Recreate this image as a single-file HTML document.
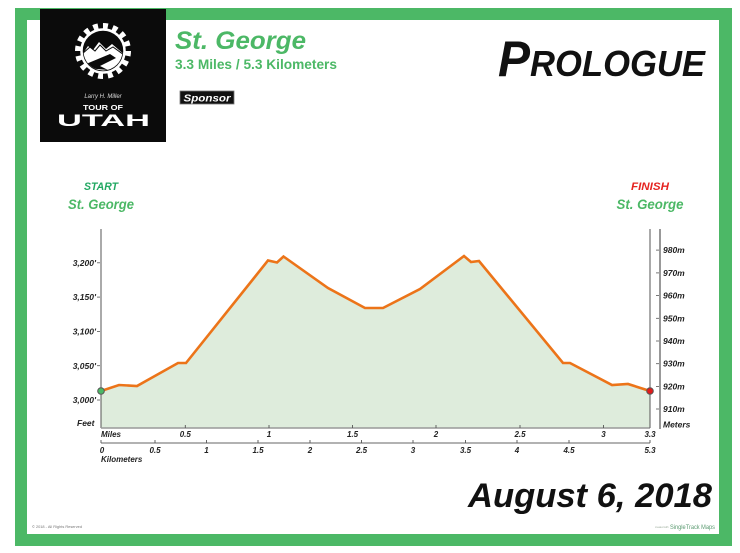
<!DOCTYPE html>
<html><head><meta charset="utf-8"><style>
html,body{margin:0;padding:0;background:#fff;}
svg{display:block;}
text{font-family:"Liberation Sans",sans-serif;font-weight:bold;font-style:italic;}
text.up{font-style:normal;}
text.nb{font-style:normal;font-weight:normal;}
</style></head><body>
<svg width="740" height="553" viewBox="0 0 740 553" xmlns="http://www.w3.org/2000/svg">
<rect x="0" y="0" width="740" height="553" fill="#fff"/>
<rect x="15" y="8" width="717" height="538" fill="#4cb866"/>
<rect x="27" y="20" width="692" height="514" fill="#fff"/>

<!-- logo -->
<rect x="40" y="9" width="126" height="133" fill="#0b0b0b"/>
<circle cx="103" cy="51" r="25" fill="none" stroke="#fff" stroke-width="6" stroke-dasharray="4.9 4.9"/>
<circle cx="103" cy="51" r="21.5" fill="#0b0b0b" stroke="#fff" stroke-width="2.5"/>
<clipPath id="gc"><circle cx="103" cy="51" r="19.5"/></clipPath>
<g clip-path="url(#gc)">
<polygon points="80,58 88,46 93,50 99,42 106,49 112,44 126,56 126,75 80,75" fill="#fff"/>
<polygon points="86,64 110,54 116,58 100,66 108,70 86,68" fill="#0b0b0b"/>
<polyline points="82,54 90,47 95,51 100,45 106,51 113,47 124,55" fill="none" stroke="#0b0b0b" stroke-width="1"/>
</g>
<text x="103" y="98" font-size="6" fill="#ddd" text-anchor="middle" style="font-weight:normal">Larry H. Miller</text>
<text class="up" x="103" y="110" font-size="7" fill="#fff" text-anchor="middle" textLength="40" lengthAdjust="spacingAndGlyphs">TOUR OF</text>
<text class="up" x="57" y="126" font-size="17" fill="#fff" textLength="93" lengthAdjust="spacingAndGlyphs">UTAH</text>

<!-- titles -->
<text x="175" y="49" font-size="25" fill="#4cb866" textLength="131" lengthAdjust="spacingAndGlyphs">St. George</text>
<text class="up" x="175" y="69" font-size="13.5" fill="#4cb866" textLength="162" lengthAdjust="spacingAndGlyphs">3.3 Miles / 5.3 Kilometers</text>
<rect x="180" y="91" width="54" height="13" fill="#111" stroke="#777" stroke-width="0.8"/>
<text x="207" y="101.5" font-size="10" fill="#fff" text-anchor="middle" textLength="47" lengthAdjust="spacingAndGlyphs">Sponsor</text>

<text x="498" y="76" fill="#111" textLength="207" lengthAdjust="spacingAndGlyphs"><tspan font-size="50">P</tspan><tspan font-size="36">ROLOGUE</tspan></text>

<!-- start / finish -->
<text x="101" y="190" font-size="11" fill="#22a862" text-anchor="middle" textLength="34" lengthAdjust="spacingAndGlyphs">START</text>
<text x="101" y="209" font-size="14" fill="#4cb866" text-anchor="middle" textLength="66" lengthAdjust="spacingAndGlyphs">St. George</text>
<text x="650" y="190" font-size="11" fill="#e52421" text-anchor="middle" textLength="38" lengthAdjust="spacingAndGlyphs">FINISH</text>
<text x="650" y="209" font-size="14" fill="#4cb866" text-anchor="middle" textLength="67" lengthAdjust="spacingAndGlyphs">St. George</text>

<!-- profile -->
<polygon points="101,391 119,385 137,386 178,363 186,363 268,260.5 277,262.5 283.5,256.5 328,288 365,308 383,308 420,289 464,256 471,262 479,261 563,363 570,363 612,385 628,384 650,391 650,428 101,428" fill="#deecdc"/>
<polyline points="101,391 119,385 137,386 178,363 186,363 268,260.5 277,262.5 283.5,256.5 328,288 365,308 383,308 420,289 464,256 471,262 479,261 563,363 570,363 612,385 628,384 650,391" fill="none" stroke="#ec7419" stroke-width="2.6" stroke-linejoin="miter"/>

<!-- axes -->
<line x1="101" y1="229" x2="101" y2="428" stroke="#555" stroke-width="1"/>
<line x1="650" y1="229" x2="650" y2="428" stroke="#555" stroke-width="1"/>
<line x1="660" y1="229" x2="660" y2="429" stroke="#333" stroke-width="1"/>
<line x1="101" y1="428" x2="650" y2="428" stroke="#999" stroke-width="1.4"/>
<line x1="101" y1="443" x2="650" y2="443" stroke="#999" stroke-width="1.4"/>

<g font-size="8.5" fill="#222" text-anchor="end">
<text x="96" y="266">3,200'</text>
<text x="96" y="300">3,150'</text>
<text x="96" y="334.5">3,100'</text>
<text x="96" y="369">3,050'</text>
<text x="96" y="403">3,000'</text>
</g>
<g stroke="#555" stroke-width="0.8">
<line x1="97" y1="262.8" x2="100" y2="262.8"/>
<line x1="97" y1="297.1" x2="100" y2="297.1"/>
<line x1="97" y1="331.4" x2="100" y2="331.4"/>
<line x1="97" y1="365.7" x2="100" y2="365.7"/>
<line x1="97" y1="400" x2="100" y2="400"/>
<line x1="656" y1="250.1" x2="659" y2="250.1"/>
<line x1="656" y1="272.9" x2="659" y2="272.9"/>
<line x1="656" y1="295.6" x2="659" y2="295.6"/>
<line x1="656" y1="318.3" x2="659" y2="318.3"/>
<line x1="656" y1="341" x2="659" y2="341"/>
<line x1="656" y1="363.7" x2="659" y2="363.7"/>
<line x1="656" y1="386.4" x2="659" y2="386.4"/>
<line x1="656" y1="409" x2="659" y2="409"/>
</g>
<text x="77" y="426" font-size="8.5" fill="#222">Feet</text>
<g font-size="8.5" fill="#222">
<text x="663" y="253">980m</text>
<text x="663" y="276">970m</text>
<text x="663" y="298.6">960m</text>
<text x="663" y="321.3">950m</text>
<text x="663" y="344">940m</text>
<text x="663" y="366.7">930m</text>
<text x="663" y="389.4">920m</text>
<text x="663" y="412">910m</text>
<text x="663" y="427.5">Meters</text>
</g>

<!-- mile ticks -->
<g stroke="#555" stroke-width="0.9">
<line x1="185.3" y1="425" x2="185.3" y2="428"/>
<line x1="269" y1="425" x2="269" y2="428"/>
<line x1="352.5" y1="425" x2="352.5" y2="428"/>
<line x1="436" y1="425" x2="436" y2="428"/>
<line x1="520" y1="425" x2="520" y2="428"/>
<line x1="603.5" y1="425" x2="603.5" y2="428"/>
<line x1="650" y1="425" x2="650" y2="428"/>
<line x1="101" y1="440" x2="101" y2="443"/>
<line x1="155" y1="440" x2="155" y2="443"/>
<line x1="206.5" y1="440" x2="206.5" y2="443"/>
<line x1="258" y1="440" x2="258" y2="443"/>
<line x1="310" y1="440" x2="310" y2="443"/>
<line x1="361.5" y1="440" x2="361.5" y2="443"/>
<line x1="413" y1="440" x2="413" y2="443"/>
<line x1="465.5" y1="440" x2="465.5" y2="443"/>
<line x1="517" y1="440" x2="517" y2="443"/>
<line x1="569" y1="440" x2="569" y2="443"/>
<line x1="650" y1="440" x2="650" y2="443"/>
</g>
<text x="101" y="437" font-size="8" fill="#222">Miles</text>
<g font-size="8" fill="#222" text-anchor="middle">
<text x="185.3" y="437">0.5</text>
<text x="269" y="437">1</text>
<text x="352.5" y="437">1.5</text>
<text x="436" y="437">2</text>
<text x="520" y="437">2.5</text>
<text x="603.5" y="437">3</text>
<text x="650" y="437">3.3</text>
<text x="102" y="453">0</text>
<text x="155" y="453">0.5</text>
<text x="206.5" y="453">1</text>
<text x="258" y="453">1.5</text>
<text x="310" y="453">2</text>
<text x="361.5" y="453">2.5</text>
<text x="413" y="453">3</text>
<text x="465.5" y="453">3.5</text>
<text x="517" y="453">4</text>
<text x="569" y="453">4.5</text>
<text x="650" y="453">5.3</text>
</g>
<text x="101" y="462" font-size="8" fill="#222">Kilometers</text>

<circle cx="101" cy="391" r="3.3" fill="#4cb866" stroke="#555" stroke-width="1"/>
<circle cx="650" cy="391" r="3.3" fill="#e21b1b" stroke="#555" stroke-width="1"/>

<!-- footer -->
<text x="468" y="507" font-size="34" fill="#111" textLength="244" lengthAdjust="spacingAndGlyphs">August 6, 2018</text>
<text class="nb" x="32" y="528" font-size="4" fill="#777" textLength="50" lengthAdjust="spacingAndGlyphs">© 2018 - All Rights Reserved</text>
<text class="nb" x="655" y="528" font-size="2.5" fill="#9a9">created with</text>
<text class="nb" x="670" y="529" font-size="6" fill="#5a9a70" textLength="45" lengthAdjust="spacingAndGlyphs">SingleTrack Maps</text>
</svg>
</body></html>
